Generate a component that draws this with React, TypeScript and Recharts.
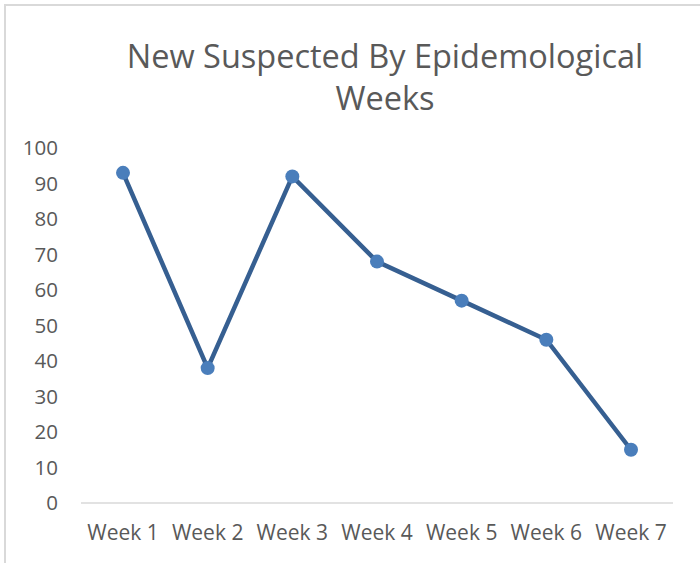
import { LineChart, Line, XAxis, YAxis } from 'recharts';

const weeks = ['Week 1', 'Week 2', 'Week 3', 'Week 4', 'Week 5', 'Week 6', 'Week 7'];
const suspected = [93, 38, 92, 68, 57, 46, 15];
const yTicks = [0, 10, 20, 30, 40, 50, 60, 70, 80, 90, 100];

const data = weeks.map((week, i) => ({ week, suspected: suspected[i] }));

const font = '"Open Sans", sans-serif';

export default function App() {
  return (
    <div style={{ position: 'absolute', left: 0, top: 0, width: 700, height: 563, background: '#fff', overflow: 'hidden' }}>
      <div
        style={{
          position: 'absolute',
          left: 4,
          top: 4,
          width: 760,
          height: 620,
          border: '2px solid #d9d9d9',
        }}
      />
      <div
        style={{
          position: 'absolute',
          left: 85,
          width: 600,
          top: 35,
          textAlign: 'center',
          fontFamily: font,
          fontSize: 32.5,
          lineHeight: '42px',
          color: '#595959',
        }}
      >
        New Suspected By Epidemological
        <br />
        Weeks
      </div>
      <div style={{ position: 'absolute', left: 0, top: 0 }}>
        <LineChart width={700} height={563} data={data} margin={{ top: 148, right: 27, left: 0, bottom: 30 }}>
          <XAxis
            dataKey="week"
            height={30}
            padding={{ left: 42, right: 42 }}
            axisLine={{ stroke: '#d9d9d9', strokeWidth: 1.5 }}
            tickLine={false}
            tickMargin={16}
            tick={{ fill: '#595959', fontSize: 21, fontFamily: font }}
            interval={0}
          />
          <YAxis
            width={81}
            domain={[0, 100]}
            ticks={yTicks}
            axisLine={false}
            tickLine={false}
            tickMargin={17}
            tick={{ fill: '#595959', fontSize: 20.5, fontFamily: font }}
            interval={0}
          />
          <Line
            dataKey="suspected"
            stroke="#365f91"
            strokeWidth={4.5}
            dot={{ r: 7, fill: '#4a7ebb', stroke: 'none' }}
            isAnimationActive={false}
          />
        </LineChart>
      </div>
    </div>
  );
}
